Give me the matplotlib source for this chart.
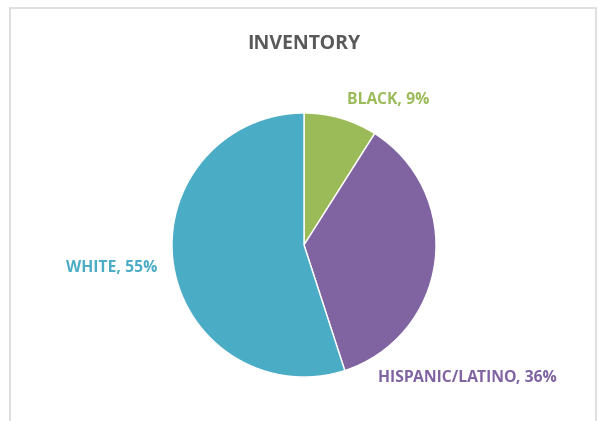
import matplotlib.pyplot as plt
from matplotlib.patches import Rectangle

# Data
categories = ["BLACK", "HISPANIC/LATINO", "WHITE"]
shares = [9, 36, 55]
colors = ["#9BBB59", "#8064A2", "#4BACC6"]

W, H = 598, 421
cx, cy, r = 304, 245, 132  # pie centre/radius in pixels (from top)

fig = plt.figure(figsize=(W / 100, H / 100), dpi=100)
fig.patches.append(Rectangle((10 / W, -0.1), (596 - 10) / W, 1.1 - 8 / H,
                             transform=fig.transFigure, fill=False,
                             edgecolor="#D9D9D9", linewidth=1.2))

ax = fig.add_axes([0, 0, 1, 1])
ax.pie(shares, colors=colors, startangle=90, counterclock=False, radius=1,
       wedgeprops=dict(edgecolor="white", linewidth=1))
ax.set_aspect("auto")
ax.set_xlim(-cx / r, (W - cx) / r)
ax.set_ylim(-(H - cy) / r, cy / r)
ax.axis("off")

# label placement (offsets around the pie)
label_pos = [(0.64, 1.10), (1.235, -1.01), (-1.455, -0.174)]
for name, val, col, (lx, ly) in zip(categories, shares, colors, label_pos):
    ax.text(lx, ly, f"{name}, {val}%", color=col, fontsize=11.3,
            fontweight="bold", family="Open Sans", ha="center", va="center")

fig.text(304 / W, 1 - 44 / H, "INVENTORY", color="#595959", fontsize=14,
         fontweight="bold", family="Open Sans", ha="center", va="center")

fig.savefig("out.png", dpi=100)
